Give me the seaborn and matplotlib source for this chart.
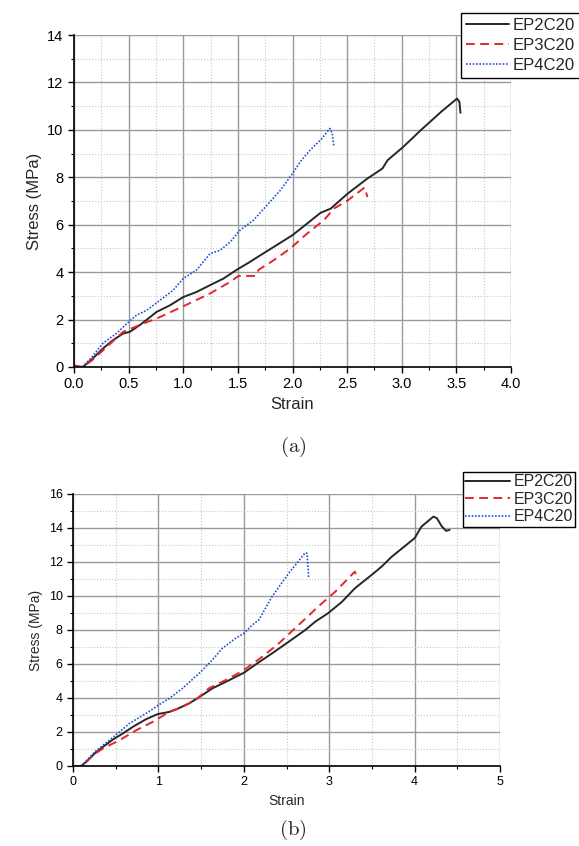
import matplotlib
matplotlib.use('Agg')
from matplotlib import pyplot as plt
from matplotlib.ticker import MultipleLocator
import seaborn as sns

labels = ['EP2C20', 'EP3C20', 'EP4C20']

# panel (a)
a_ep2_strain = [0.08, 0.17, 0.265, 0.357, 0.449, 0.51, 0.60, 0.66, 0.755, 0.878, 1.0, 1.12, 1.245,
                1.368, 1.49, 1.61, 1.705, 1.827, 2.0, 2.134, 2.256, 2.35, 2.507, 2.686, 2.823, 2.87,
                3.013, 3.175, 3.36, 3.506, 3.528, 3.537]
a_ep2_stress = [0.0, 0.35, 0.78, 1.13, 1.41, 1.48, 1.76, 1.97, 2.32, 2.60, 2.95, 3.16, 3.45,
                3.73, 4.1, 4.43, 4.71, 5.06, 5.56, 6.05, 6.50, 6.68, 7.32, 7.95, 8.37, 8.72,
                9.28, 9.99, 10.76, 11.32, 11.18, 10.72]
a_ep3_strain = [0.0, 0.08, 0.17, 0.265, 0.449, 0.632, 0.755, 1.0, 1.245, 1.43, 1.505, 1.66, 1.69,
                1.827, 1.98, 2.134, 2.287, 2.379, 2.507, 2.66, 2.686]
a_ep3_stress = [0.07, 0.0, 0.3, 0.7, 1.48, 1.83, 2.04, 2.56, 3.1, 3.59, 3.84, 3.84, 4.1,
                4.5, 5.0, 5.63, 6.19, 6.68, 7.03, 7.57, 7.17]
a_ep4_strain = [0.08, 0.17, 0.265, 0.388, 0.50, 0.57, 0.664, 0.786, 0.908, 1.0, 1.12, 1.245, 1.337,
                1.43, 1.52, 1.643, 1.766, 1.89, 2.0, 2.07, 2.16, 2.26, 2.342, 2.364, 2.379]
a_ep4_stress = [0.0, 0.45, 1.0, 1.41, 1.9, 2.18, 2.39, 2.81, 3.24, 3.73, 4.08, 4.78, 4.92,
                5.27, 5.77, 6.19, 6.82, 7.46, 8.16, 8.65, 9.14, 9.59, 10.06, 9.85, 9.28]

# panel (b)
b_ep2_strain = [0.098, 0.175, 0.253, 0.35, 0.466, 0.583, 0.70, 0.855, 0.99, 1.127, 1.205, 1.36,
                1.497, 1.63, 1.79, 2.0, 2.176, 2.33, 2.526, 2.72, 2.837, 2.985, 3.15, 3.30, 3.497,
                3.614, 3.73, 4.0, 4.08, 4.22, 4.26, 4.32, 4.37, 4.41]
b_ep2_stress = [0.0, 0.34, 0.73, 1.12, 1.55, 1.91, 2.3, 2.75, 3.05, 3.18, 3.32, 3.68,
                4.11, 4.56, 4.95, 5.48, 6.1, 6.62, 7.31, 8.0, 8.49, 8.98, 9.66, 10.45, 11.24,
                11.73, 12.3, 13.4, 14.08, 14.67, 14.58, 14.08, 13.83, 13.89]
b_ep3_strain = [0.0, 0.11, 0.233, 0.35, 0.544, 0.739, 0.932, 1.127, 1.28, 1.44, 1.59, 1.826, 2.0,
                2.215, 2.41, 2.64, 2.87, 3.07, 3.30, 3.34]
b_ep3_stress = [0.0, 0.0, 0.63, 1.03, 1.51, 2.1, 2.59, 3.18, 3.48, 3.91, 4.56, 5.15, 5.64,
                6.42, 7.21, 8.29, 9.37, 10.25, 11.43, 10.94]
b_ep4_strain = [0.098, 0.253, 0.35, 0.5, 0.66, 0.855, 1.0, 1.127, 1.28, 1.497, 1.63, 1.748, 1.904,
                2.0, 2.1, 2.176, 2.33, 2.526, 2.72, 2.74, 2.76]
b_ep4_stress = [0.0, 0.82, 1.22, 1.81, 2.5, 3.09, 3.58, 3.97, 4.56, 5.54, 6.23, 6.92, 7.51,
                7.8, 8.3, 8.59, 9.96, 11.34, 12.55, 12.5, 11.04]

sns.set_style('ticks')
plt.rcParams['font.family'] = ['Liberation Sans', 'DejaVu Sans']
plt.rcParams['mathtext.fontset'] = 'cm'

line_styles = [dict(color='#262626', linestyle='-', linewidth=1.4),
               dict(color='#e3262d', linestyle=(0, (4.5, 2.8)), linewidth=1.4),
               dict(color='#2050d8', linestyle=(0, (1, 1)), linewidth=1.2)]

fig = plt.figure(figsize=(5.79, 8.46), dpi=100)
ax1 = fig.add_axes([0.1278, 0.5662, 0.7548, 0.3924])
ax2 = fig.add_axes([0.1261, 0.0946, 0.7375, 0.3215])

panels = [
    (ax1, [(a_ep2_strain, a_ep2_stress), (a_ep3_strain, a_ep3_stress), (a_ep4_strain, a_ep4_stress)],
     4, 0.5, 0.25, 14, 2, 1, 10.5, 12, 12, (0.796, 0.9846), 0.3, 0.3, 2.6),
    (ax2, [(b_ep2_strain, b_ep2_stress), (b_ep3_strain, b_ep3_stress), (b_ep4_strain, b_ep4_stress)],
     5, 1, 0.5, 16, 2, 1, 9, 10, 11.5, (0.7997, 0.4421), 0.15, 0.15, 2.8),
]

for ax, series, xmax, xmaj, xmin, ymax, ymaj, ymin, tfs, lfs, legfs, anchor, lsp, bpad, hlen in panels:
    for lab, (xs, ys), st in zip(labels, series, line_styles):
        sns.lineplot(x=xs, y=ys, ax=ax, sort=False, estimator=None, label=lab, **st)
    ax.set_xlim(0, xmax)
    ax.set_ylim(0, ymax)
    ax.xaxis.set_major_locator(MultipleLocator(xmaj))
    ax.xaxis.set_minor_locator(MultipleLocator(xmin))
    ax.yaxis.set_major_locator(MultipleLocator(ymaj))
    ax.yaxis.set_minor_locator(MultipleLocator(ymin))
    ax.grid(which='major', color='#9a9a9a', linewidth=1.0, linestyle='-')
    ax.grid(which='minor', color='#c8c8c8', linewidth=0.8, linestyle=':')
    ax.set_axisbelow(True)
    sns.despine(ax=ax)
    for sp in ['left', 'bottom']:
        ax.spines[sp].set_color('black')
        ax.spines[sp].set_linewidth(1.2)
    ax.tick_params(which='major', direction='out', length=4, width=1, colors='black', labelsize=tfs)
    ax.tick_params(which='minor', direction='out', length=2.5, width=0.8, colors='black')
    ax.set_xlabel('Strain', fontsize=lfs)
    ax.set_ylabel('Stress (MPa)', fontsize=lfs)
    leg = ax.legend(loc='upper left', bbox_to_anchor=anchor, bbox_transform=fig.transFigure,
                    fontsize=legfs, frameon=True, fancybox=False, framealpha=1,
                    edgecolor='black', borderpad=bpad, labelspacing=lsp,
                    handlelength=hlen, handletextpad=0.2, borderaxespad=0)
    leg.get_frame().set_linewidth(1.0)

ax1.xaxis.set_major_formatter(matplotlib.ticker.FormatStrFormatter('%.1f'))

fig.text(0.506, 1 - 447 / 846, r'$\mathrm{(a)}$', ha='center', va='center', fontsize=15)
fig.text(0.506, 1 - 830 / 846, r'$\mathrm{(b)}$', ha='center', va='center', fontsize=15)

fig.savefig('out.png', dpi=100)
